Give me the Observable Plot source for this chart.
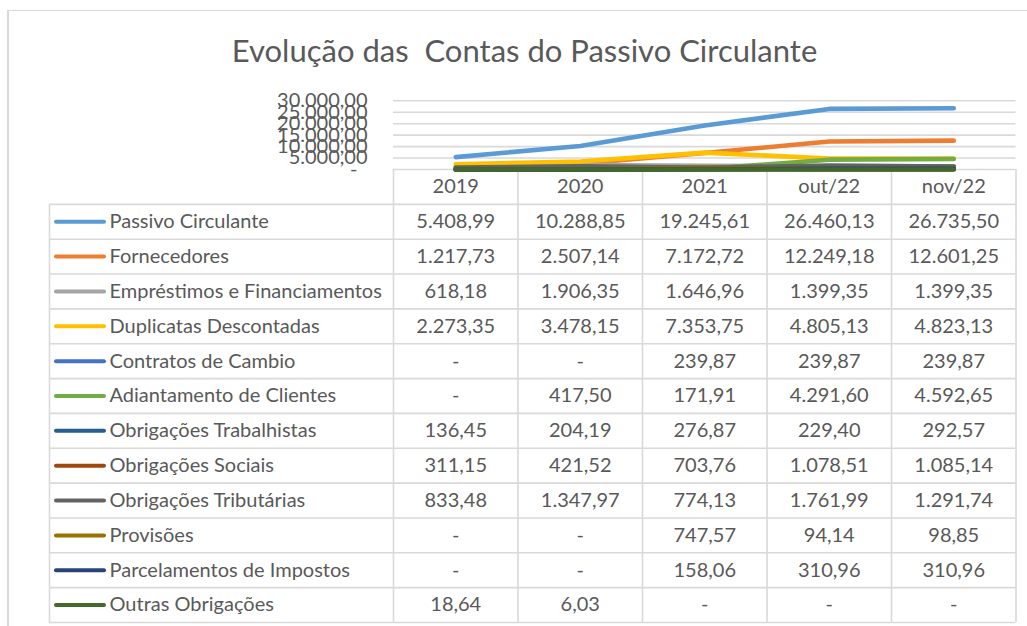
<!DOCTYPE html>
<html>
<head>
<meta charset="utf-8">
<script src="https://cdn.jsdelivr.net/npm/d3@7"></script>
<script src="https://cdn.jsdelivr.net/npm/@observablehq/plot@0.6"></script>
<style>
html, body { margin: 0; padding: 0; background: #fff; overflow: hidden; }
#root { position: relative; width: 1027px; height: 626px; overflow: hidden; font-family: Lato, "Open Sans", sans-serif; background: #fff; }
#frame { position: absolute; left: 7px; top: 10px; width: 1100px; height: 700px; border-top: 1px solid #d9d9d9; border-left: 2px solid #d9d9d9; box-sizing: border-box; }
#title { position: absolute; left: 0; width: 1049px; top: 30px; text-align: center; font-size: 31px; color: #595959; white-space: pre; line-height: 40px; }
#chart, #table { position: absolute; left: 0; }
#chart { top: 80px; }
#table { top: 169px; }
</style>
</head>
<body>
<div id="root">
  <div id="frame"></div>
  <div id="title">Evolução das  Contas do Passivo Circulante</div>
  <div id="table"></div>
  <div id="chart"></div>
</div>
<script>
// ---- data ----
const categories = ["2019", "2020", "2021", "out/22", "nov/22"];
const seriesNames = [
  "Passivo Circulante",
  "Fornecedores",
  "Empréstimos e Financiamentos",
  "Duplicatas Descontadas",
  "Contratos de Cambio",
  "Adiantamento de Clientes",
  "Obrigações Trabalhistas",
  "Obrigações Sociais",
  "Obrigações Tributárias",
  "Provisões",
  "Parcelamentos de Impostos",
  "Outras Obrigações"
];
const seriesColors = [
  "#5B9BD5", "#ED7D31", "#A5A5A5", "#FFC000", "#4472C4", "#70AD47",
  "#255E91", "#9E480E", "#636363", "#997300", "#264478", "#43682B"
];
const passivoCirculante      = [5408.99, 10288.85, 19245.61, 26460.13, 26735.50];
const fornecedores           = [1217.73, 2507.14, 7172.72, 12249.18, 12601.25];
const emprestimos            = [618.18, 1906.35, 1646.96, 1399.35, 1399.35];
const duplicatas             = [2273.35, 3478.15, 7353.75, 4805.13, 4823.13];
const contratosCambio        = [0, 0, 239.87, 239.87, 239.87];
const adiantamentoClientes   = [0, 417.50, 171.91, 4291.60, 4592.65];
const obrigTrabalhistas      = [136.45, 204.19, 276.87, 229.40, 292.57];
const obrigSociais           = [311.15, 421.52, 703.76, 1078.51, 1085.14];
const obrigTributarias       = [833.48, 1347.97, 774.13, 1761.99, 1291.74];
const provisoes              = [0, 0, 747.57, 94.14, 98.85];
const parcelamentos          = [0, 0, 158.06, 310.96, 310.96];
const outrasObrigacoes       = [18.64, 6.03, 0, 0, 0];
const yTicks = [0, 5000, 10000, 15000, 20000, 25000, 30000];

const seriesValues = [
  passivoCirculante, fornecedores, emprestimos, duplicatas, contratosCambio,
  adiantamentoClientes, obrigTrabalhistas, obrigSociais, obrigTributarias,
  provisoes, parcelamentos, outrasObrigacoes
];

// ---- helpers ----
const ptBR = d3.formatLocale({decimal: ",", thousands: ".", grouping: [3], currency: ["R$", ""]});
const fmt = ptBR.format(",.2f");
const show = v => v === 0 ? "-" : fmt(v);

const FONT = "Lato, 'Open Sans', sans-serif";
const TEXT = "#595959";
const GRID = "#d9d9d9";
const COLW = 124.5;               // pixel width of one category column
const LABEL_UNITS = 344 / COLW;   // label column width, in column units
const px = p => p / COLW;         // pixel offset -> column units
const xOpt = {type: "linear", domain: [-LABEL_UNITS, categories.length], axis: null};
const M = {marginLeft: 49, marginRight: 11.5};

const long = seriesNames.flatMap((s, si) =>
  seriesValues[si].map((v, ci) => ({series: s, col: ci + 0.5, value: v})));

// ---- line chart ----
const chart = Plot.plot({
  width: 1027, height: 100, marginTop: 20.3, marginBottom: 11, ...M,
  x: xOpt,
  y: {domain: [0, 30000], axis: null},
  color: {domain: seriesNames, range: seriesColors},
  style: {fontFamily: FONT, fontSize: "20px", background: "transparent", overflow: "visible"},
  marks: [
    Plot.ruleY(yTicks.filter(t => t > 0), {x1: 0, x2: categories.length, stroke: GRID, strokeWidth: 1.6}),
    Plot.line(long, {x: "col", y: "value", z: "series", stroke: "series", strokeWidth: 4.6,
      strokeLinecap: "round", strokeLinejoin: "round"}),
    Plot.text(yTicks.filter(t => t > 0), {x: 0, y: d => d, text: d => fmt(d), textAnchor: "end", dx: -26, fill: TEXT}),
    Plot.text(yTicks.filter(t => t === 0), {x: 0, y: d => d, text: () => "-", textAnchor: "end", dx: -36, fill: TEXT})
  ]
});
document.getElementById("chart").appendChild(chart);

// ---- data table ----
const nRows = seriesNames.length + 1; // header + series
const rows = seriesNames.map((s, i) => ({series: s, row: i + 1}));
const cells = seriesNames.flatMap((s, si) =>
  seriesValues[si].map((v, ci) => ({col: ci + 0.5, row: si + 1.5, text: show(v)})));

const table = Plot.plot({
  width: 1027, height: 453, marginTop: 0, marginBottom: 0, ...M,
  x: xOpt,
  y: {domain: [0, nRows], reverse: true, axis: null},
  color: {domain: seriesNames, range: seriesColors},
  style: {fontFamily: FONT, fontSize: "20px", background: "transparent", overflow: "visible"},
  marks: [
    Plot.ruleY(d3.range(1, nRows + 1), {x1: -LABEL_UNITS, x2: categories.length, stroke: GRID, strokeWidth: 1.6}),
    Plot.ruleY([0], {x1: 0, x2: categories.length, stroke: GRID, strokeWidth: 1.6}),
    Plot.ruleX(d3.range(0, categories.length + 1), {y1: 0, y2: nRows, stroke: GRID, strokeWidth: 1.6}),
    Plot.ruleX([-LABEL_UNITS], {y1: 1, y2: nRows, stroke: GRID, strokeWidth: 1.6}),
    Plot.text(categories, {x: (d, i) => i + 0.5, y: 0.5, text: d => d, fill: TEXT}),
    Plot.text(cells, {x: "col", y: "row", text: "text", fill: TEXT}),
    Plot.ruleY(rows, {y: d => d.row + 0.5, x1: -LABEL_UNITS + px(7), x2: -LABEL_UNITS + px(55),
      stroke: "series", strokeWidth: 4, strokeLinecap: "round"}),
    Plot.text(rows, {x: -LABEL_UNITS, y: d => d.row + 0.5, text: "series", textAnchor: "start", dx: 60, fill: TEXT})
  ]
});
document.getElementById("table").appendChild(table);
</script>
</body>
</html>
